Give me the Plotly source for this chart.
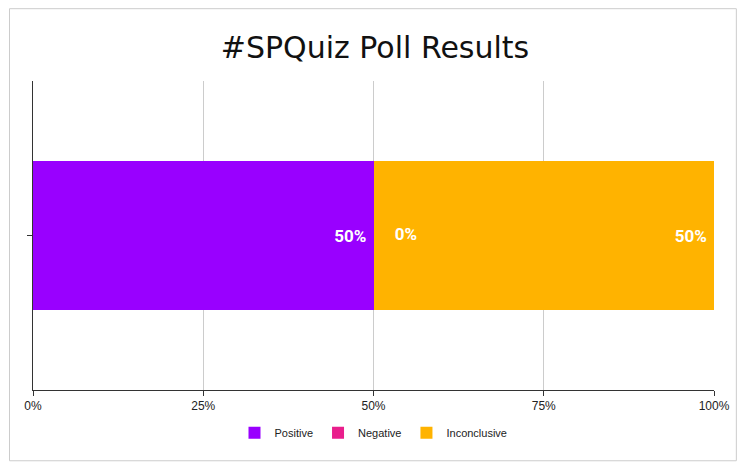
import plotly.graph_objects as go

category = [""]
series = ["Positive", "Negative", "Inconclusive"]
values = [50, 0, 50]
colors = ["#9900FF", "#E91E8C", "#FFB300"]
tick_vals = [0, 25, 50, 75, 100]
tick_text = ["0%", "25%", "50%", "75%", "100%"]

label_font = dict(family="Roboto", size=17, color="white", weight="bold")
nb = "\u00a0"

fig = go.Figure()
for name, val, col in zip(series, values, colors):
    fig.add_trace(go.Bar(
        y=category, x=[val], name=name, orientation="h",
        marker=dict(color=col, line=dict(width=0)),
        text=[f"{val}%{nb}"] if val > 0 else None,
        textposition="inside", insidetextanchor="end",
        textfont=label_font,
    ))

# label for the zero-width segment
start = 0
for name, val in zip(series, values):
    if val == 0:
        fig.add_trace(go.Scatter(
            y=category, x=[start], mode="text", text=[f"{nb*5}{val}%"],
            textposition="middle right", showlegend=False, hoverinfo="skip",
            textfont=label_font,
        ))
    start += val

# the page body adds 8px around the figure, so the figure is 16px smaller
fig.update_layout(
    width=734, height=455,
    barmode="stack", bargap=0.52,
    margin=dict(l=25, r=23, t=73, b=73),
    paper_bgcolor="white", plot_bgcolor="white",
    title=dict(text="#SPQuiz Poll Results", x=0.5, xanchor="center",
               y=0.914, yanchor="middle",
               font=dict(family="DejaVu Sans", size=30, color="#111111")),
    legend=dict(orientation="h", x=0.5, xanchor="center", y=-0.138, yanchor="middle",
                font=dict(family="Liberation Sans", size=11, color="#222222"),
                traceorder="normal"),
    font=dict(family="Liberation Sans", size=12, color="#222222"),
    showlegend=True,
)
fig.update_xaxes(range=[0, 100], tickvals=tick_vals, ticktext=tick_text,
                 showgrid=True, gridcolor="#cccccc", gridwidth=1,
                 showline=True, linecolor="#333333", linewidth=1,
                 ticks="outside", ticklen=5, tickcolor="#333333",
                 zeroline=False, fixedrange=True)
fig.update_yaxes(showgrid=False, showline=True, linecolor="#333333", linewidth=1,
                 ticks="outside", ticklen=5, tickcolor="#333333",
                 showticklabels=False, zeroline=False)

# thin outer frame
fig.add_shape(type="rect", xref="paper", yref="paper",
              x0=-0.0345, x1=1.0328, y0=-0.229, y1=1.234,
              line=dict(color="#cccccc", width=1), fillcolor="rgba(0,0,0,0)",
              layer="below")

fig.write_html("out.html")
